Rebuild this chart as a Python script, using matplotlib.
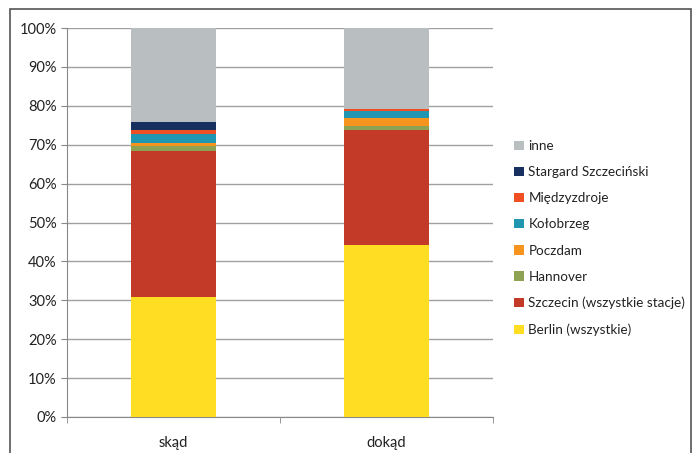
import numpy as np
import matplotlib.pyplot as plt
from matplotlib.patches import Rectangle
from matplotlib.ticker import FuncFormatter

plt.rcParams['font.family'] = ['Lato', 'DejaVu Sans']

kategorie = ['skąd', 'dokąd']
serie = ['Berlin (wszystkie)', 'Szczecin (wszystkie stacje)', 'Hannover', 'Poczdam',
         'Kołobrzeg', 'Międzyzdroje', 'Stargard Szczeciński', 'inne']
berlin = [30.85, 44.3]
szczecin = [37.5, 29.6]
hannover = [1.35, 0.85]
poczdam = [0.7, 2.0]
kolobrzeg = [2.4, 1.8]
miedzyzdroje = [1.05, 0.6]
stargard = [2.05, 0.0]
inne = [24.1, 20.85]
kolory = ['#FFDD22', '#C43A28', '#8DA253', '#F7941D', '#2196B0', '#F04E23', '#17305F', '#B9BEC1']

dane = [berlin, szczecin, hannover, poczdam, kolobrzeg, miedzyzdroje, stargard, inne]

fig = plt.figure(figsize=(6.95, 4.53), dpi=100)
ax = fig.add_axes([67/695, 1-417/453, 426/695, 389/453])

x = np.arange(len(kategorie))
dol = np.zeros(len(kategorie))
for wart, nazwa, kol in zip(dane, serie, kolory):
    ax.bar(x, wart, 0.4, bottom=dol, color=kol, label=nazwa, zorder=3)
    dol += np.array(wart)

ax.set_xlim(-0.5, 1.5)
ax.set_ylim(0, 100)
ax.set_yticks(np.arange(0, 101, 10))
ax.yaxis.set_major_formatter(FuncFormatter(lambda v, p: f'{int(v)}%'))
ax.set_xticks(x)
ax.set_xticklabels(kategorie)
ax.set_xticks([-0.5, 0.5, 1.5], minor=True)
ax.tick_params(axis='x', which='major', length=0, pad=14, labelsize=10.5, colors='#222222')
ax.tick_params(axis='x', which='minor', length=4, color='#888888')
ax.tick_params(axis='y', length=4, color='#888888', labelsize=10.5, labelcolor='#222222')
ax.grid(axis='y', color='#A0A0A0', linewidth=1, zorder=0)
for s in ['top', 'right']:
    ax.spines[s].set_visible(False)
for s in ['left', 'bottom']:
    ax.spines[s].set_color('#888888')

uchwyty, etykiety = ax.get_legend_handles_labels()
fig.legend(uchwyty[::-1], etykiety[::-1], loc='center left', bbox_to_anchor=(502/695, 1-238/453),
           frameon=False, fontsize=9.7, handlelength=0.7, handleheight=0.7, handletextpad=0.35,
           labelspacing=1.05, labelcolor='#222222')

fig.patches.append(Rectangle((10/695, -0.05), 681/695, 1.05-9/453, transform=fig.transFigure,
                             fill=False, edgecolor='#555555', linewidth=1.2))

fig.savefig('out.png', dpi=100)
